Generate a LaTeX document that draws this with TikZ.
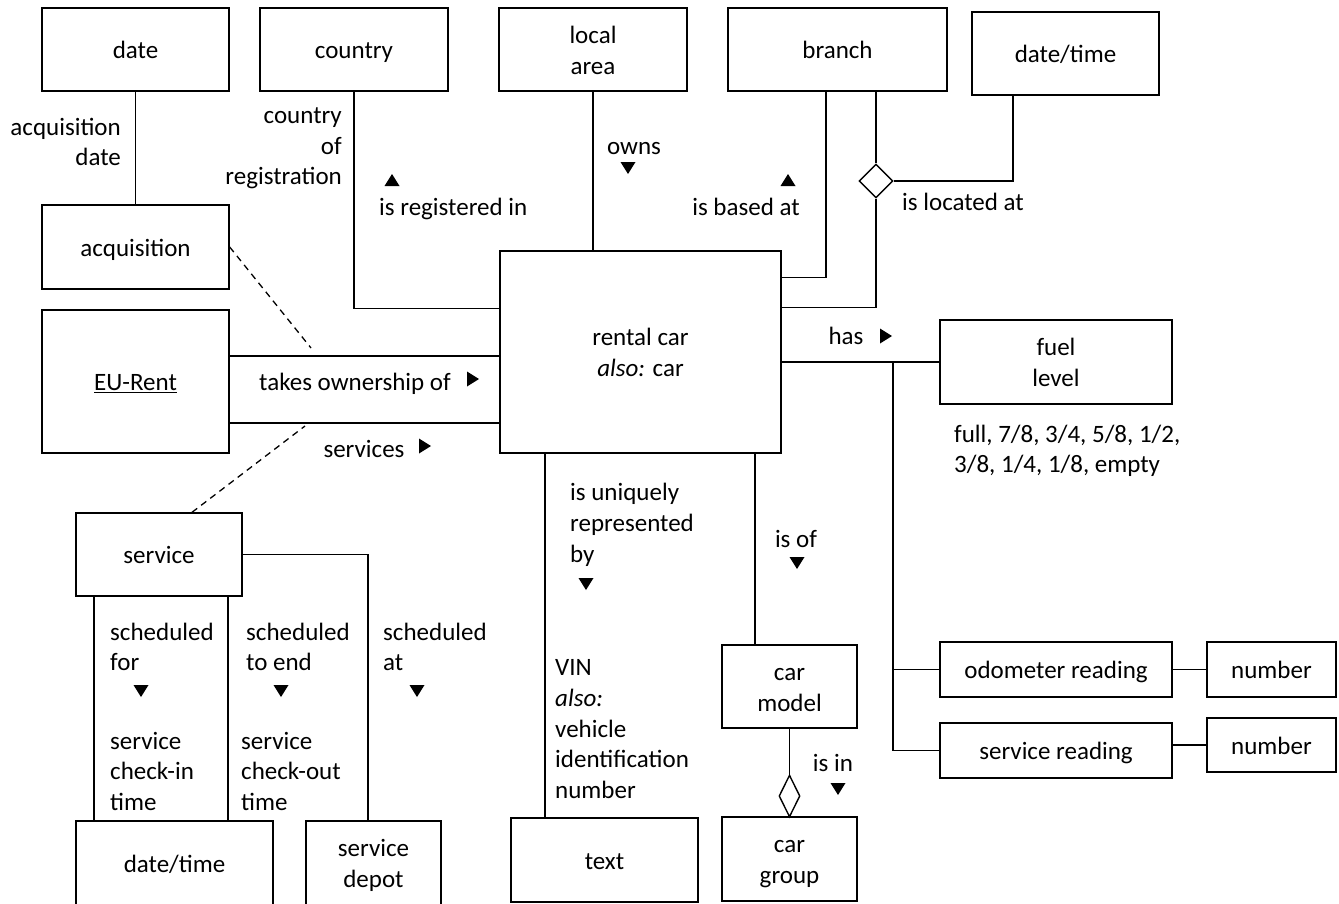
\documentclass[tikz,border=0pt]{standalone}
\usepackage{fontspec}
\setmainfont{Carlito}
\usetikzlibrary{shapes.geometric}
\newcommand\mystrut{\rule[-4.5pt]{0pt}{27.5pt}}
\tikzset{
  every node/.style={font=\fontsize{25}{30.7}\selectfont},
  strutted/.style={execute at begin node=\mystrut, execute at end node=\mystrut},
  box/.style={draw, line width=1.4pt, inner sep=0pt, align=center, strutted},
  conn/.style={line width=1.4pt},
  dconn/.style={line width=1.3pt, dashed, dash pattern=on 6.5pt off 5pt},
  lbl/.style={inner sep=0pt, strutted},
  dia/.style={draw, diamond, fill=white, line width=1.4pt, inner sep=0pt},
  tridn/.pic={\fill (-7.5,-6) -- (7.5,-6) -- (0,6) -- cycle;},
  triup/.pic={\fill (-7.5,6) -- (7.5,6) -- (0,-6) -- cycle;},
  trirt/.pic={\fill (-6,-7.5) -- (-6,7.5) -- (6,0) -- cycle;},
}
\begin{document}
\begin{tikzpicture}[x=1pt,y=-1pt]
\fill[white] (0,0) rectangle (1339,903);
\useasboundingbox (0,0) rectangle (1339,903);
% boxes
\node[box, minimum width=187, minimum height=83] (date) at (135.5,49.5) {date};
\node[box, minimum width=188, minimum height=83] (country) at (354,49.5) {country};
\node[box, minimum width=188, minimum height=83] (local) at (593,49.5) {\mystrut local\\area};
\node[box, minimum width=219, minimum height=83] (branch) at (837.5,49.5) {branch};
\node[box, minimum width=187, minimum height=83] (dt1) at (1065.5,53.5) {date/time};
\node[box, minimum width=187, minimum height=84] (acq) at (135.5,247) {acquisition};
\node[box, minimum width=187, minimum height=143] (eu) at (135.5,381.5) {\underline{EU-Rent}};
\node[box, minimum width=281, minimum height=202] (rc) at (640.5,352) {\mystrut rental car\\\textit{also:} car};
\node[box, minimum width=232, minimum height=84] (fuel) at (1056,362) {\mystrut fuel\\level};
\node[box, minimum width=166, minimum height=83] (service) at (159,554.5) {service};
\node[box, minimum width=232, minimum height=55] (odo) at (1056,669.5) {odometer reading};
\node[box, minimum width=129, minimum height=55] (num1) at (1271.5,669.5) {number};
\node[box, minimum width=232, minimum height=55] (srd) at (1056,750.5) {service reading};
\node[box, minimum width=129, minimum height=54] (num2) at (1271.5,745) {number};
\node[box, minimum width=135, minimum height=83] (cm) at (789.5,686.5) {\mystrut car\\model};
\node[box, minimum width=135, minimum height=84] (cg) at (789.5,859) {\mystrut car\\group};
\node[box, minimum width=197, minimum height=84] (dt2) at (174.5,863) {date/time};
\node[box, minimum width=135, minimum height=84] (depot) at (373.5,863) {\mystrut service\\depot};
\node[box, minimum width=187, minimum height=84] (txt) at (604.5,860) {text};
% diamonds
\node[dia, minimum width=34, minimum height=34] (dia1) at (876,181) {};
\node[dia, minimum width=21, minimum height=42] (dia2) at (789.5,796) {};
% connectors
\draw[conn] (date.south) -- (acq.north);
\draw[conn] (country.south) |- ([yshift=-58pt]rc.north west);
\draw[conn] (local.south) -- (local.south |- rc.north);
\draw[conn] ([xshift=-11.5pt]branch.south) |- ([yshift=-27pt]rc.north east);
\draw[conn] ([xshift=38.5pt]branch.south) -- (dia1.north);
\draw[conn] (dia1.south) |- ([yshift=-57pt]rc.north east);
\draw[conn] (dia1.east) -| ([xshift=-52.5pt]dt1.south);
\draw[conn] (rc.east |- fuel.west) -- (fuel.west);
\coordinate (hj) at (893,362);
\draw[conn] (hj) |- (odo.west);
\draw[conn] (hj) |- (srd.west);
\draw[conn] (odo.east) -- (num1.west);
\draw[conn] (srd.east |- num2.west) -- (num2.west);
\coordinate (t1) at ([yshift=25.5pt]eu.east);
\coordinate (t2) at ([yshift=-41.5pt]eu.east);
\draw[conn] (t1) -- (t1 -| rc.west);
\draw[conn] (t2) -- (t2 -| rc.west);
\coordinate (dA) at (311,348);
\coordinate (dS) at (305,426);
\draw[dconn] (acq.east) -- (dA);
\draw[dconn] ([xshift=33pt]service.north) -- (dS);
\draw[conn] ([xshift=-65pt]service.south) -- ([xshift=-65pt]service.south |- dt2.north);
\draw[conn] ([xshift=69pt]service.south) -- ([xshift=69pt]service.south |- dt2.north);
\draw[conn] (service.east) -| ([xshift=-5.5pt]depot.north);
\draw[conn] ([xshift=-95.5pt]rc.south) -- ([xshift=-95.5pt]rc.south |- txt.north);
\draw[conn] ([xshift=114.5pt]rc.south) -- ([xshift=114.5pt]rc.south |- cm.north);
\draw[conn] (cm.south) -- (dia2.north);
% labels
\node[lbl, align=right, anchor=east] (l1) at (121,144) {acquisition\\date};
\node[lbl, align=right, anchor=east] (l2) at (342,148.5) {country\\of\\registration};
\pic at (392,180) {triup};
\node[lbl, anchor=west] (l3) at (379,206.5) {is registered in};
\node[lbl] (l4) at (634,145) {owns};
\pic at (628,168) {tridn};
\node[lbl] (l5) at (746,206) {is based at};
\pic at (788,180) {triup};
\node[lbl, anchor=west] (l6) at (902,201) {is located at};
\node[lbl] (l7) at (846,335) {has};
\pic at (886,336) {trirt};
\node[lbl, align=left, anchor=west] (l8) at (954,451) {full, 7/8, 3/4, 5/8, 1/2,\\3/8, 1/4, 1/8, empty};
\node[lbl] (l9) at (355,381.5) {takes ownership of};
\pic at (473,379) {trirt};
\node[lbl] (l10) at (364,448) {services};
\pic at (425,446) {trirt};
\node[lbl, align=left, anchor=west] (l11) at (570,525) {is uniquely\\represented\\by};
\pic at (586,584) {tridn};
\node[lbl] (l12) at (796,538) {is of};
\pic at (797,563) {tridn};
\node[lbl, align=left, anchor=west] (l13) at (555,731.5) {VIN\\\textit{also:}\\vehicle\\identification\\number};
\node[lbl] (l14) at (833,762) {is in};
\pic at (838,789) {tridn};
\node[lbl, align=left, anchor=west] (l15) at (110,649) {scheduled\\for};
\pic at (141,691) {tridn};
\node[lbl, align=left, anchor=west] (l16) at (110,773.5) {service\\check-in\\time};
\node[lbl, align=left, anchor=west] (l17) at (246,649) {scheduled\\to end};
\pic at (281,691) {tridn};
\node[lbl, align=left, anchor=west] (l18) at (241,773.5) {service\\check-out\\time};
\node[lbl, align=left, anchor=west] (l19) at (383,649) {scheduled\\at};
\pic at (417,691) {tridn};
\end{tikzpicture}
\end{document}
